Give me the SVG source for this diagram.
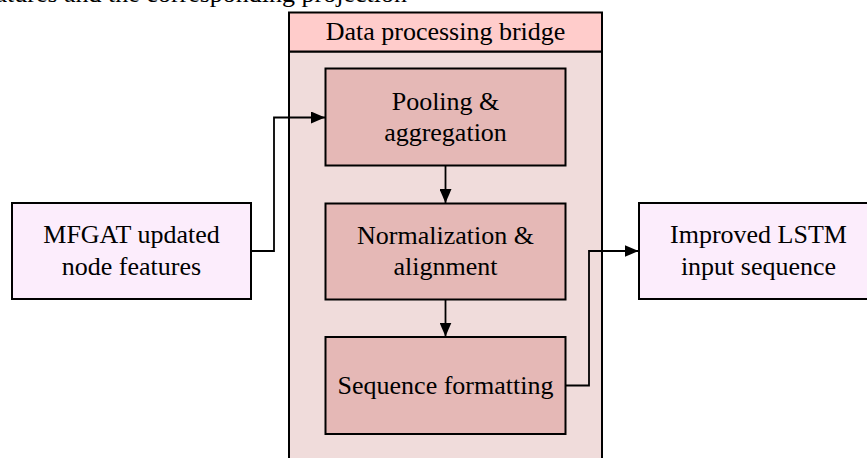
<svg xmlns="http://www.w3.org/2000/svg" width="867" height="458" viewBox="0 0 867 458">
  <style>
    text { font-family: 'Liberation Serif', 'DejaVu Serif', 'Times New Roman', Times, serif; font-size: 26px; fill: #000; }
    .c { text-anchor: middle; }
    .io { fill: #fcedfc; stroke: #000; stroke-width: 2; }
    .step { fill: #e5b8b6; stroke: #000; stroke-width: 2; }
    .wire { fill: none; stroke: #000; stroke-width: 1.8; }
  </style>
  <defs>
    <marker id="arrow" viewBox="0 0 14 12" refX="14" refY="6" markerWidth="14" markerHeight="12" markerUnits="userSpaceOnUse" orient="auto">
      <path d="M0,0 L14,6 L0,12 z" fill="#000"/>
    </marker>
  </defs>

  <rect width="867" height="458" fill="#fff"/>

  <!-- caption line running off the top edge -->
  <text x="407" y="1.5" font-size="24" text-anchor="end" fill="#222">node features and the corresponding projection</text>

  <!-- bridge container -->
  <g id="bridge">
    <rect x="289" y="51.5" width="313" height="420" fill="#f0dcdb" stroke="#000" stroke-width="2"/>
    <rect x="289" y="12.5" width="313" height="39" fill="#ffcccb" stroke="#000" stroke-width="2"/>
    <text class="c" x="445.5" y="40">Data processing bridge</text>
  </g>

  <g id="mfgat">
    <rect class="io" x="12" y="203" width="239" height="96"/>
    <text class="c" x="131.5" y="243">MFGAT updated</text>
    <text class="c" x="131.5" y="275">node features</text>
  </g>

  <g id="pooling">
    <rect class="step" x="325.5" y="68.5" width="240" height="97"/>
    <text class="c" x="445.5" y="109.5">Pooling &amp;</text>
    <text class="c" x="445.5" y="140.5">aggregation</text>
  </g>

  <g id="normalization">
    <rect class="step" x="325.5" y="203.5" width="240" height="96"/>
    <text class="c" x="445.5" y="244">Normalization &amp;</text>
    <text class="c" x="445.5" y="275">alignment</text>
  </g>

  <g id="sequence">
    <rect class="step" x="325.5" y="337" width="240" height="97"/>
    <text class="c" x="445.5" y="394">Sequence formatting</text>
  </g>

  <g id="lstm">
    <rect class="io" x="639" y="203" width="239" height="96"/>
    <text class="c" x="758.5" y="243">Improved LSTM</text>
    <text class="c" x="758.5" y="275">input sequence</text>
  </g>

  <g id="connectors">
    <path class="wire" d="M251,251 H274 V117.5 H325" marker-end="url(#arrow)"/>
    <path class="wire" d="M445.5,165.5 V203" marker-end="url(#arrow)"/>
    <path class="wire" d="M445.5,299.5 V336.5" marker-end="url(#arrow)"/>
    <path class="wire" d="M565.5,385.5 H589 V251 H638.5" marker-end="url(#arrow)"/>
  </g>
</svg>
